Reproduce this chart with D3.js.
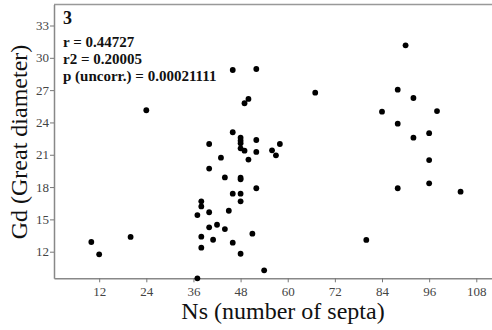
<!DOCTYPE html>
<html>
<head>
<meta charset="utf-8">
<script src="https://cdn.jsdelivr.net/npm/d3@7"></script>
<style>
  html, body { margin: 0; padding: 0; background: #fff; }
  svg { display: block; }
  svg text { font-family: "Liberation Serif", "Times New Roman", Times, "DejaVu Serif", serif !important; }
</style>
</head>
<body>
<svg id="chart" width="492" height="330"></svg>
<script>
// Data
const ns = [10, 12, 20, 24, 37, 37, 38, 38, 38, 38,
            40, 40, 40, 40, 41, 42, 43, 44, 44, 45,
            46, 46, 46, 46, 48, 48, 48, 48, 48, 48,
            48, 48, 48, 49, 49, 50, 50, 51, 52, 52,
            52, 52, 54, 56, 57, 58, 67, 80, 84, 88,
            88, 88, 90, 92, 92, 96, 96, 96, 98, 104];
const gd = [12.9, 11.76, 13.37, 25.13, 9.53, 15.4, 16.68, 16.2, 13.39, 12.37,
            22.0, 19.72, 15.66, 14.26, 13.11, 14.5, 20.73, 18.9, 14.1, 15.8,
            28.87, 23.09, 17.39, 12.84, 22.59, 22.31, 22.06, 21.6, 18.87, 18.72,
            17.39, 16.68, 11.81, 25.78, 21.38, 26.18, 20.55, 13.67, 28.96, 22.37,
            21.26, 17.89, 10.27, 21.41, 20.95, 22.0, 26.76, 13.09, 25.0, 27.04,
            23.89, 17.89, 31.16, 26.27, 22.59, 23.0, 20.51, 18.35, 25.06, 17.57];
const xTicks = [12, 24, 36, 48, 60, 72, 84, 96, 108];
const yTicks = [12, 15, 18, 21, 24, 27, 30, 33];
const statLines = ["r = 0.44727", "r2 = 0.20005", "p (uncorr.) = 0.00021111"];
const panelLabel = "3";
const xTitle = "Ns (number of septa)";
const yTitle = "Gd (Great diameter)";

(function () {
const pL = 54, pR = 492, pT = 4.5, pB = 278.3;
const svg = d3.select("#chart");

const x = d3.scaleLinear().domain([0.5, 112]).range([pL, pR]);
const y = d3.scaleLinear().domain([9.53, 34.95]).range([pB, pT]);

// top frame line
svg.append("line")
  .attr("x1", pL).attr("x2", pR).attr("y1", pT).attr("y2", pT)
  .attr("stroke", "#999").attr("stroke-width", 1.5);

// axes
const xAxis = svg.append("g").attr("transform", `translate(0,${pB})`)
  .call(d3.axisBottom(x).tickValues(xTicks).tickSize(4).tickPadding(4).tickSizeOuter(0));
const yAxis = svg.append("g").attr("transform", `translate(${pL},0)`)
  .call(d3.axisLeft(y).tickValues(yTicks).tickSize(4).tickPadding(1).tickSizeOuter(0));
[xAxis, yAxis].forEach(g => {
  g.attr("font-family", null);
  g.select(".domain").attr("stroke", "#888").attr("stroke-width", 1.5);
  g.selectAll(".tick line").attr("stroke", "#777");
  g.selectAll(".tick text").attr("fill", "#444").attr("font-size", 13);
});

// points
svg.append("g").selectAll("circle")
  .data(ns.map((v, i) => [v, gd[i]]))
  .join("circle")
  .attr("cx", d => x(d[0])).attr("cy", d => y(d[1]))
  .attr("r", 2.9).attr("fill", "#000");

// annotation
svg.append("text").attr("x", 63).attr("y", 24)
  .attr("font-weight", "bold").attr("font-size", 18)
  .attr("fill", "#111").text(panelLabel);
svg.append("g").selectAll("text").data(statLines).join("text")
  .attr("x", 63).attr("y", (d, i) => 47 + i * 17)
  .attr("font-weight", "bold").attr("font-size", 15)
  .attr("fill", "#111").text(d => d);

// axis titles
svg.append("text").attr("x", 283).attr("y", 319)
  .attr("text-anchor", "middle").attr("font-size", 24)
  .attr("fill", "#111").text(xTitle);
svg.append("text")
  .attr("transform", "translate(27,142) rotate(-90)")
  .attr("text-anchor", "middle").attr("font-size", 24)
  .attr("fill", "#111").text(yTitle);
})();
</script>
</body>
</html>
